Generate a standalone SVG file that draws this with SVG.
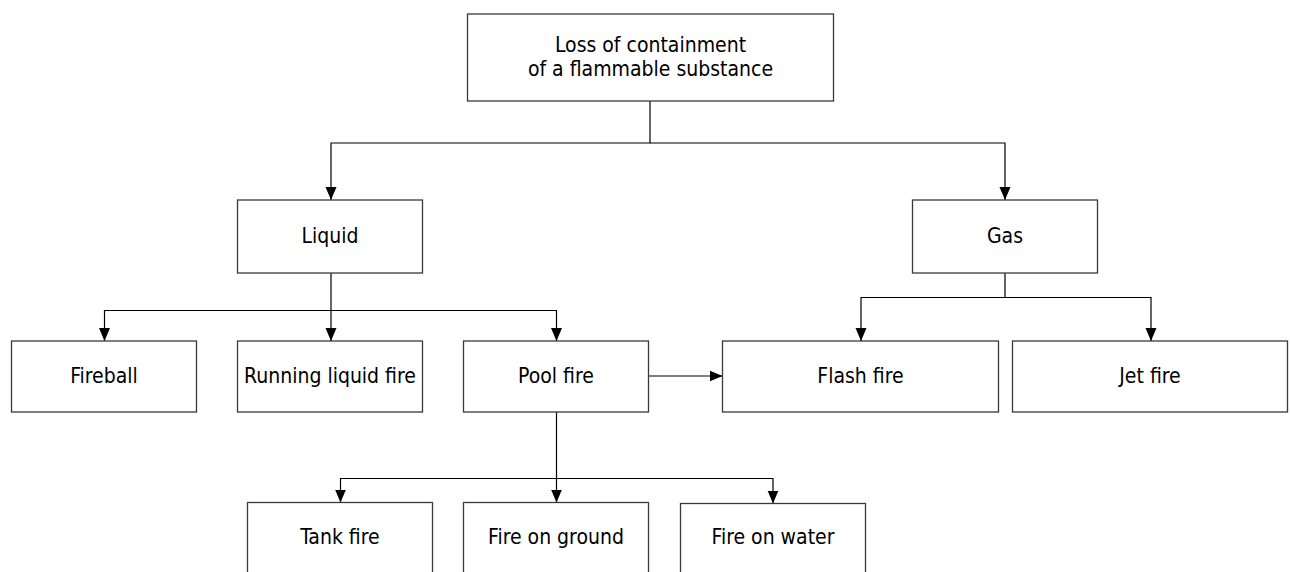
<svg xmlns="http://www.w3.org/2000/svg" width="1290" height="572" viewBox="0 0 1290 572">
  <style>
    .box { fill: #ffffff; stroke: #3a3a3a; stroke-width: 1.3; }
    .lbl { font-family: 'DejaVu Sans Condensed', 'DejaVu Sans', sans-serif; font-stretch: condensed; font-size: 21px; fill: #000000; text-anchor: middle; }
    .wire { fill: none; stroke: #000000; stroke-width: 1.2; }
  </style>
  <defs>
    <marker id="arrow" markerUnits="userSpaceOnUse" markerWidth="13" markerHeight="12" viewBox="0 0 13 12" refX="13" refY="6" orient="auto">
      <path d="M0,0.5 L13,6 L0,11.5 Z" fill="#000000"/>
    </marker>
  </defs>
  <rect width="1290" height="572" fill="#ffffff"/>

  <!-- connectors -->
  <g id="connectors">
    <path class="wire" d="M650,101 V143 H331 V200" marker-end="url(#arrow)"/>
    <path class="wire" d="M650,143 H1005 V200" marker-end="url(#arrow)"/>
    <path class="wire" d="M331,273 V341" marker-end="url(#arrow)"/>
    <path class="wire" d="M331,310.5 H104.5 V341" marker-end="url(#arrow)"/>
    <path class="wire" d="M331,310.5 H556.5 V341" marker-end="url(#arrow)"/>
    <path class="wire" d="M1005,273 V297.5 H861 V341" marker-end="url(#arrow)"/>
    <path class="wire" d="M1005,297.5 H1151 V341" marker-end="url(#arrow)"/>
    <path class="wire" d="M649,376 H722.5" marker-end="url(#arrow)"/>
    <path class="wire" d="M556.5,412 V502.5" marker-end="url(#arrow)"/>
    <path class="wire" d="M556.5,478.5 H340.5 V502.5" marker-end="url(#arrow)"/>
    <path class="wire" d="M556.5,478.5 H773 V503.5" marker-end="url(#arrow)"/>
  </g>

  <!-- nodes -->
  <g id="n-loss">
    <rect class="box" x="467.5" y="14" width="366" height="87"/>
    <text class="lbl" x="650.5" y="52">Loss of containment</text>
    <text class="lbl" x="650.5" y="76">of a flammable substance</text>
  </g>
  <g id="n-liquid">
    <rect class="box" x="237.5" y="200" width="185" height="73"/>
    <text class="lbl" x="330" y="243">Liquid</text>
  </g>
  <g id="n-gas">
    <rect class="box" x="912.5" y="200" width="185" height="73"/>
    <text class="lbl" x="1005" y="243">Gas</text>
  </g>
  <g id="n-fireball">
    <rect class="box" x="11.5" y="341" width="185" height="71"/>
    <text class="lbl" x="104" y="383">Fireball</text>
  </g>
  <g id="n-running">
    <rect class="box" x="237.5" y="341" width="185" height="71"/>
    <text class="lbl" x="330" y="383">Running liquid fire</text>
  </g>
  <g id="n-pool">
    <rect class="box" x="463.5" y="341" width="185" height="71"/>
    <text class="lbl" x="556" y="383">Pool fire</text>
  </g>
  <g id="n-flash">
    <rect class="box" x="722.5" y="341" width="276" height="71"/>
    <text class="lbl" x="860.5" y="383">Flash fire</text>
  </g>
  <g id="n-jet">
    <rect class="box" x="1012.5" y="341" width="275" height="71"/>
    <text class="lbl" x="1150" y="383">Jet fire</text>
  </g>
  <g id="n-tank">
    <rect class="box" x="247.5" y="502.5" width="185" height="100"/>
    <text class="lbl" x="340" y="544">Tank fire</text>
  </g>
  <g id="n-ground">
    <rect class="box" x="463.5" y="502.5" width="185" height="100"/>
    <text class="lbl" x="556" y="544">Fire on ground</text>
  </g>
  <g id="n-water">
    <rect class="box" x="680.5" y="503.5" width="185" height="100"/>
    <text class="lbl" x="773" y="544">Fire on water</text>
  </g>
</svg>
